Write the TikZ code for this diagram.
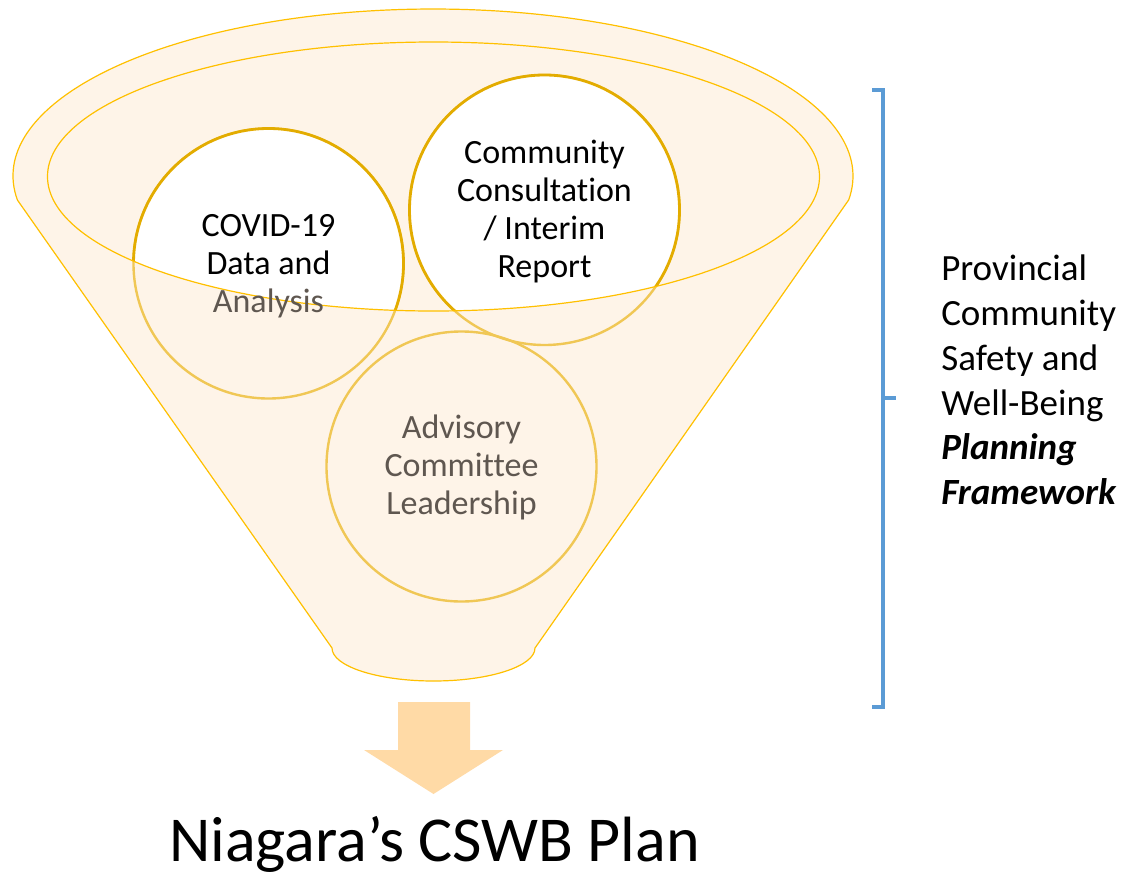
\documentclass[tikz,border=0pt]{standalone}
\usepackage{fontspec}
\setmainfont{Carlito}[Ligatures={TeX,NoCommon}]
\definecolor{peach}{HTML}{FEF4E8}
\definecolor{funnelline}{HTML}{FFC000}
\definecolor{darkgold}{HTML}{E3AC00}
\definecolor{lightgold}{HTML}{F0C755}
\definecolor{greytext}{HTML}{5F5750}
\definecolor{bracketblue}{HTML}{5B9BD5}
\definecolor{arrowfill}{HTML}{FFDAA6}
\begin{document}
\begin{tikzpicture}[x=0.75pt,y=-0.75pt,
  funnel/.style={draw=funnelline,line width=0.9pt,fill=peach},
  rim/.style={draw=funnelline,line width=0.9pt},
  backcircle/.style={draw=lightgold,line width=1.8pt},
  frontcircle/.style={draw=darkgold,line width=2.1pt,fill=white},
  circlabel/.style={align=center,inner sep=0pt,font=\fontsize{25.5}{28.5}\selectfont},
  side/.style={align=left,anchor=west,inner sep=0pt,font=\fontsize{27.75}{33.6}\selectfont},
  bracket/.style={draw=bracketblue,line width=3.6pt},
  bigarrow/.style={fill=arrowfill,draw=none}]
\useasboundingbox (0,0) rectangle (1122,872);
% funnel body
\path[funnel] (17.4,200) arc[start angle=188.26,end angle=-8.26,x radius=315pt,y radius=125.25pt]
  -- (535,648) arc[start angle=0,end angle=-180,x radius=76.125pt,y radius=24.75pt] -- cycle;
% circle centres
\coordinate (c1) at (268.5,263.5);
\coordinate (c2) at (544.5,210);
\coordinate (c3) at (461.5,466.5);
\coordinate (rimc) at (433.5,176.5);
% circles seen through the funnel wall
\draw[backcircle] (c3) circle[radius=101.25pt];
\draw[backcircle] (c1) circle[radius=101.25pt];
\draw[backcircle] (c2) circle[radius=101.25pt];
% parts inside the opening
\begin{scope}
  \clip (rimc) ellipse[x radius=289.5pt,y radius=100.875pt];
  \draw[frontcircle] (c1) circle[radius=101.25pt];
  \draw[frontcircle] (c2) circle[radius=101.25pt];
\end{scope}
% rim of the opening
\draw[rim] (rimc) ellipse[x radius=289.5pt,y radius=100.875pt];
% labels
\node[circlabel] (covid) at ([yshift=-2pt]c1) {COVID-19\\Data and\\\textcolor{greytext}{Analysis}};
\node[circlabel] (consult) at ([yshift=-1pt]c2) {Community\\Consultation\\/ Interim\\Report};
\node[circlabel,text=greytext] (advisory) at ([yshift=-1pt]c3) {Advisory\\Committee\\Leadership};
% bracket
\draw[bracket] (872,90) -- (883,90) -- (883,707) -- (872,707);
\draw[bracket] (883,398) -- (896,398);
\node[side] (framework) at (941,380) {Provincial\\Community\\Safety and\\Well-Being\\\textbf{\textit{Planning}}\\\textbf{\textit{Framework}}};
% arrow
\fill[bigarrow] (398,702) -- (470,702) -- (470,750) -- (503,750) -- (433.5,794) -- (364,750) -- (398,750) -- cycle;
\node[font=\fontsize{48}{57}\selectfont,anchor=base,inner sep=0pt] (plan) at (434.5,861) {Niagara’s CSWB Plan};
\end{tikzpicture}
\end{document}
